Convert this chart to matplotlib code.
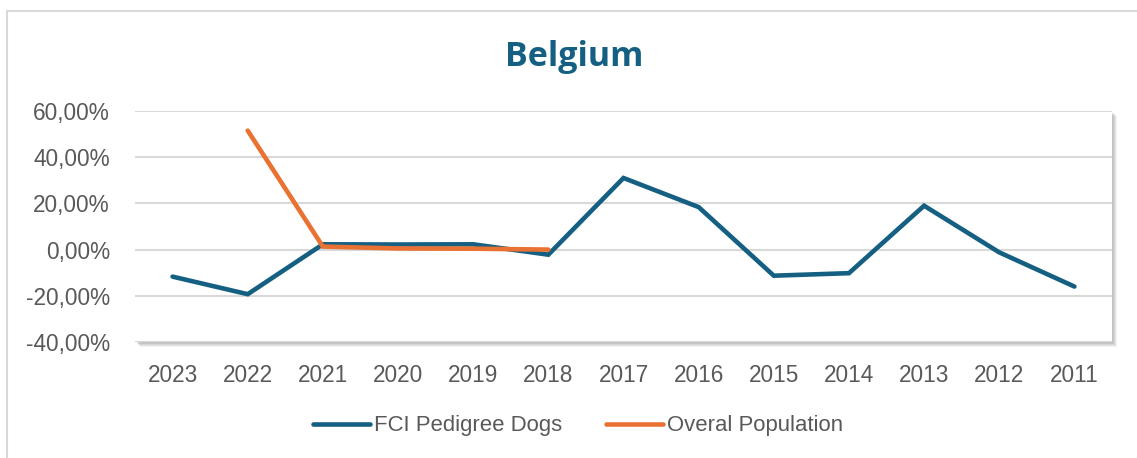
import matplotlib.pyplot as plt
from matplotlib.patches import Rectangle
from matplotlib.ticker import FuncFormatter
from matplotlib.lines import Line2D

years = ["2023", "2022", "2021", "2020", "2019", "2018", "2017",
         "2016", "2015", "2014", "2013", "2012", "2011"]
fci_dogs = [-11.7, -19.3, 2.3, 2.2, 2.3, -2.2, 31.0,
            18.4, -11.3, -10.2, 19.0, -1.2, -16.0]
overall_years = ["2022", "2021", "2020", "2019", "2018"]
overall_pop = [51.5, 1.3, 0.5, 0.4, 0.0]

BLUE = "#156082"
ORANGE = "#E97132"
TXT = "#595959"

fig = plt.figure(figsize=(11.37, 4.58), dpi=100)
W, H = 1137, 458

# chart border
fig.add_artist(Rectangle((7 / W, -0.01), (W - 7) / W + 0.01, (H - 11) / H + 0.01,
                         transform=fig.transFigure, fill=False,
                         edgecolor="#D9D9D9", lw=1.5))

left, right, top, bottom = 135, 1112, 111, 342
ax = fig.add_axes([left / W, 1 - bottom / H, (right - left) / W, (bottom - top) / H])

# soft shadow behind the plot area
for i, a in enumerate([0.10, 0.12, 0.15, 0.2]):
    off = (5 - i) / W
    offy = (5 - i) / H
    fig.add_artist(Rectangle((left / W + off, 1 - bottom / H - offy),
                             (right - left) / W, (bottom - top) / H,
                             transform=fig.transFigure, facecolor="#808080",
                             edgecolor="none", alpha=a, zorder=0.5))
ax.set_zorder(1)

x = list(range(len(years)))
ax.plot(x, fci_dogs, color=BLUE, lw=3.3, solid_capstyle="round",
        solid_joinstyle="miter", label="FCI Pedigree Dogs", zorder=3)
xo = [years.index(y) for y in overall_years]
ax.plot(xo, overall_pop, color=ORANGE, lw=3.3, solid_capstyle="round",
        solid_joinstyle="miter", label="Overal Population", zorder=4)

ax.set_xlim(-0.5, len(years) - 0.5)
ax.set_ylim(-40, 60)
ax.set_yticks([-40, -20, 0, 20, 40, 60])
ax.yaxis.set_major_formatter(FuncFormatter(lambda v, p: f"{v:.2f}%".replace(".", ",")))
ax.set_xticks(x)
ax.set_xticklabels(years)
ax.grid(axis="y", color="#D9D9D9", lw=1.5)
ax.set_axisbelow(True)
for s in ax.spines.values():
    s.set_visible(False)
ax.tick_params(length=0, labelsize=16.3, labelcolor=TXT)
ax.tick_params(axis="x", pad=16)
ax.tick_params(axis="y", pad=18)
for t in ax.get_xticklabels() + ax.get_yticklabels():
    t.set_fontfamily("Liberation Sans")

fig.text(574 / W, 1 - 57 / H, "Belgium", ha="center", va="center",
         fontsize=24.5, fontweight="bold", color=BLUE, fontfamily="Open Sans")

handles = [Line2D([], [], color=BLUE, lw=3.3, solid_capstyle="round"),
           Line2D([], [], color=ORANGE, lw=3.3, solid_capstyle="round")]
leg = fig.legend(handles, ["FCI Pedigree Dogs", "Overal Population"],
                 loc="center", bbox_to_anchor=(578 / W, 1 - 426 / H), ncol=2,
                 frameon=False, handlelength=2.6, handletextpad=0.15,
                 columnspacing=2.0, prop={"family": "Liberation Sans", "size": 15.9})
for t in leg.get_texts():
    t.set_color(TXT)

fig.savefig("out.png", dpi=100)
